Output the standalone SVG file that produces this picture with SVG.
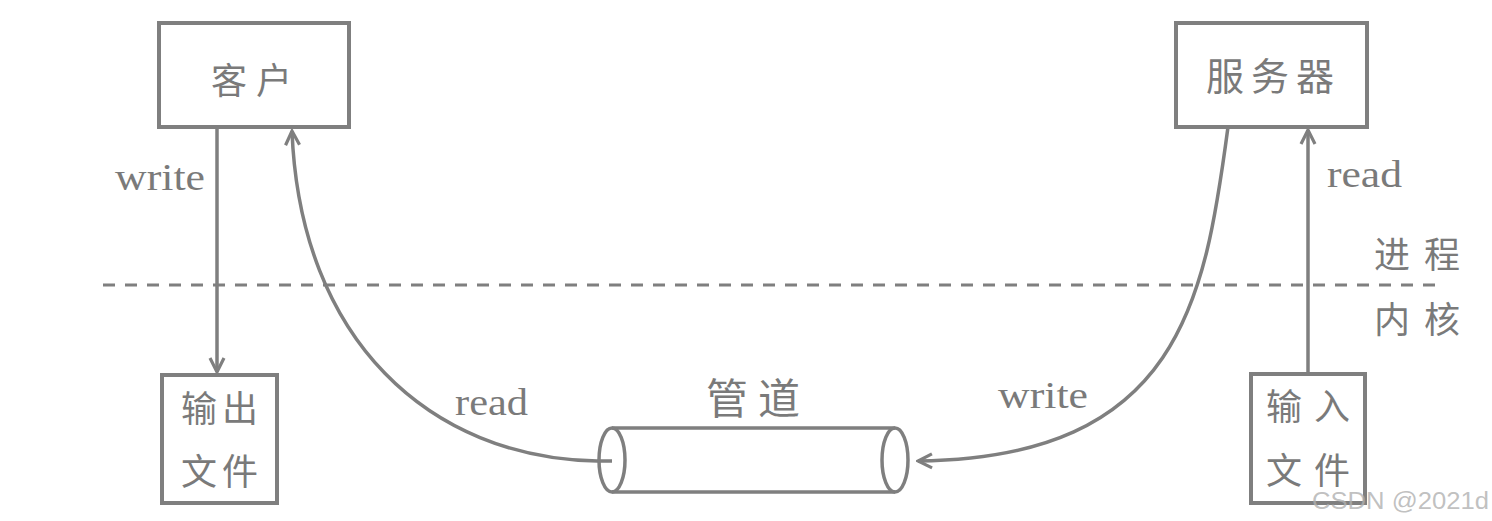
<svg xmlns="http://www.w3.org/2000/svg" width="1492" height="521" viewBox="0 0 1492 521">
<style>
.box{fill:#fff;stroke:#7f7f7f;stroke-width:4}
.ln{fill:none;stroke:#7f7f7f;stroke-width:3.5}
.cj{font-family:"Noto Sans CJK SC","Noto Sans CJK JP",sans-serif;fill:#7a7a7a}
.en{font-family:"Liberation Serif",serif;fill:#7a7a7a;font-size:38px}
</style>
<defs>
<marker id="arr" viewBox="0 0 18 18" refX="16" refY="9" markerWidth="18" markerHeight="18" markerUnits="userSpaceOnUse" orient="auto">
<path d="M2,2 L16,9 L2,16" fill="none" stroke="#7f7f7f" stroke-width="3.2"/>
</marker>
</defs>
<rect width="1492" height="521" fill="#fff"/>
<g id="connectors">
<line x1="103" y1="285" x2="1435" y2="285" stroke="#7f7f7f" stroke-width="3" stroke-dasharray="12 10"/>
<line class="ln" x1="217" y1="127" x2="217" y2="372" marker-end="url(#arr)"/>
<line class="ln" x1="1308" y1="374" x2="1308" y2="130" marker-end="url(#arr)"/>
<path class="ln" d="M612,461 L597,461 C430,458 300,340 292,131" marker-end="url(#arr)"/>
<path class="ln" d="M1228,127 C1205,300 1180,458 918,461" marker-end="url(#arr)"/>
</g>
<g id="client">
<rect class="box" x="159" y="23" width="190" height="104"/>
<text class="cj" font-size="36" x="211 256" y="94">客户</text>
</g>
<g id="server">
<rect class="box" x="1176" y="23" width="191" height="104"/>
<text class="cj" font-size="38" x="1206 1251 1296" y="90">服务器</text>
</g>
<g id="output-file">
<rect class="box" x="162" y="375" width="115" height="128"/>
<text class="cj" font-size="36" x="181 222" y="422">输出</text>
<text class="cj" font-size="36" x="181 222" y="485">文件</text>
</g>
<g id="input-file">
<rect class="box" x="1251" y="374" width="114" height="129"/>
<text class="cj" font-size="36" x="1266 1314" y="420">输入</text>
<text class="cj" font-size="36" x="1266 1314" y="484">文件</text>
</g>
<g id="pipe">
<path class="ln" d="M612,428 L895,428 M612,492 L895,492"/>
<ellipse class="ln" cx="612" cy="460" rx="13" ry="32" fill="#fff"/>
<ellipse class="ln" cx="895" cy="460" rx="13" ry="32"/>
<text class="cj" font-size="42" x="706 758" y="414">管道</text>
</g>
<g id="labels">
<text class="en" x="115" y="190" textLength="90" lengthAdjust="spacingAndGlyphs">write</text>
<text class="en" x="1327" y="187" textLength="75" lengthAdjust="spacingAndGlyphs">read</text>
<text class="en" x="455" y="415" textLength="73" lengthAdjust="spacingAndGlyphs">read</text>
<text class="en" x="998" y="408" textLength="90" lengthAdjust="spacingAndGlyphs">write</text>
<text class="cj" font-size="36" x="1374 1424" y="268">进程</text>
<text class="cj" font-size="36" x="1374 1424" y="333">内核</text>
<text x="1312" y="509" font-family="'Liberation Sans',sans-serif" font-size="23" textLength="177" lengthAdjust="spacingAndGlyphs" fill="#b0b0b0" fill-opacity="0.8">CSDN @2021d</text>
</g>
</svg>
